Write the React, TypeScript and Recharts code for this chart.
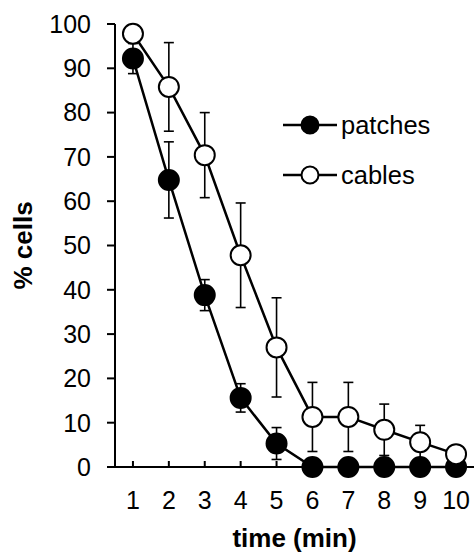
import React from 'react';
import { LineChart, Line, XAxis, YAxis, ErrorBar, Legend, Label } from 'recharts';

const times = [1, 2, 3, 4, 5, 6, 7, 8, 9, 10];
const patches = [92.2, 64.8, 38.8, 15.6, 5.3, 0, 0, 0, 0, 0];
const patchesErr = [3.4, 8.6, 3.5, 3.2, 3.6, 0, 0, 0, 0, 0];
const cables = [97.8, 85.8, 70.4, 47.8, 27.0, 11.3, 11.3, 8.4, 5.6, 2.9];
const cablesErr = [2, 10, 9.6, 11.8, 11.2, 7.8, 7.8, 5.8, 3.8, 1.5];
const yTicks = [0, 10, 20, 30, 40, 50, 60, 70, 80, 90, 100];

const FONT = '"Liberation Sans", Arial, sans-serif';

const data = times.map((t, i) => ({
  time: t,
  patches: patches[i],
  patchesErr: patchesErr[i],
  cables: cables[i],
  cablesErr: cablesErr[i],
}));

const LegendBox = () => {
  const rows = [
    { name: 'patches', fill: '#000' },
    { name: 'cables', fill: '#fff' },
  ];
  return (
    <div style={{ fontFamily: FONT, fontSize: 25.5, color: '#000' }}>
      {rows.map(r => (
        <div key={r.name} style={{ display: 'flex', alignItems: 'center', height: 50 }}>
          <svg width={56} height={24} style={{ marginRight: 2 }}>
            <line x1={0} y1={12} x2={54} y2={12} stroke="#000" strokeWidth={2.5} />
            <circle cx={27} cy={12} r={8.5} fill={r.fill} stroke="#000" strokeWidth={2} />
          </svg>
          <span>{r.name}</span>
        </div>
      ))}
    </div>
  );
};

const YTitle = (props: any) => {
  const { viewBox } = props;
  const cx = viewBox.x + 23;
  const cy = viewBox.y + viewBox.height / 2;
  return (
    <text
      x={cx}
      y={cy}
      transform={`rotate(-90, ${cx}, ${cy})`}
      textAnchor="middle"
      dominantBaseline="central"
      fontFamily={FONT}
      fontWeight="bold"
      fontSize={26}
      fill="#000"
    >
      % cells
    </text>
  );
};

const XTitle = (props: any) => {
  const { viewBox } = props;
  const cx = viewBox.x + viewBox.width / 2;
  return (
    <text
      x={cx}
      y={viewBox.y + 80}
      textAnchor="middle"
      fontFamily={FONT}
      fontWeight="bold"
      fontSize={26}
      fill="#000"
    >
      time (min)
    </text>
  );
};

const App = () => {
  return (
    <div style={{ position: 'absolute', left: 0, top: 0, background: '#fff' }}>
      <LineChart width={474} height={553} data={data} margin={{ top: 24, right: 0, left: 0, bottom: 0 }}>
        <XAxis
          dataKey="time"
          type="number"
          domain={[0.5, 10.5]}
          ticks={times}
          height={86}
          axisLine={{ stroke: '#000', strokeWidth: 2 }}
          tickLine={{ stroke: '#000', strokeWidth: 2 }}
          tickSize={-6}
          tickMargin={30}
          tick={{ fill: '#000', fontSize: 25, fontFamily: FONT }}
          interval={0}
        >
          <Label content={<XTitle />} />
        </XAxis>
        <YAxis
          type="number"
          domain={[0, 100]}
          ticks={yTicks}
          width={115}
          axisLine={{ stroke: '#000', strokeWidth: 2 }}
          tickLine={{ stroke: '#000', strokeWidth: 2 }}
          tickSize={8}
          tickMargin={16}
          tick={{ fill: '#000', fontSize: 25, fontFamily: FONT }}
          interval={0}
        >
          <Label content={<YTitle />} />
        </YAxis>
        <Legend
          content={<LegendBox />}
          layout="vertical"
          align="center"
          verticalAlign="middle"
          wrapperStyle={{ left: 283, top: 100, width: 'auto' }}
        />
        <Line
          dataKey="patches"
          type="linear"
          stroke="#000"
          strokeWidth={2.5}
          dot={{ r: 10, fill: '#000', stroke: '#000', strokeWidth: 2 }}
          activeDot={false}
          isAnimationActive={false}
        >
          <ErrorBar dataKey="patchesErr" direction="y" width={5} stroke="#000" strokeWidth={1.6} isAnimationActive={false} />
        </Line>
        <Line
          dataKey="cables"
          type="linear"
          stroke="#000"
          strokeWidth={2.5}
          dot={{ r: 10, fill: '#fff', stroke: '#000', strokeWidth: 2 }}
          activeDot={false}
          isAnimationActive={false}
        >
          <ErrorBar dataKey="cablesErr" direction="y" width={5} stroke="#000" strokeWidth={1.6} isAnimationActive={false} />
        </Line>
      </LineChart>
    </div>
  );
};

export default App;
